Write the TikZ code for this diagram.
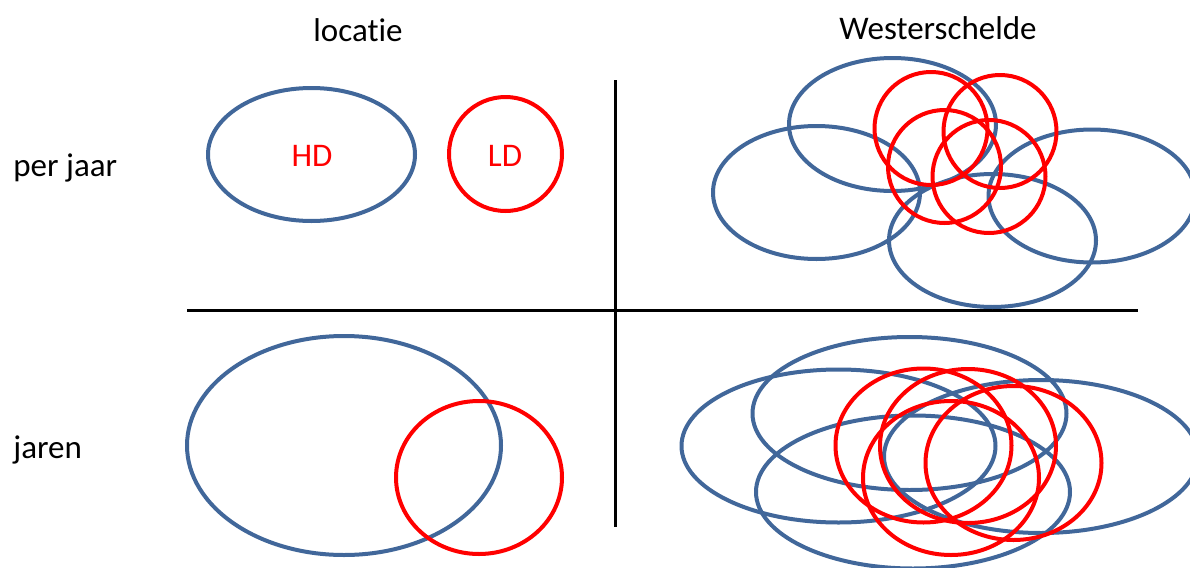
\documentclass[tikz,border=0pt]{standalone}
\usepackage{fontspec}
\setmainfont{Carlito}[Ligatures=NoCommon]
\usetikzlibrary{shapes.geometric}
\definecolor{hdblue}{HTML}{41679A}
\definecolor{ldred}{HTML}{FF0000}

\begin{document}
\begin{tikzpicture}[
  x=0.5pt, y=-0.5pt,
  hd/.style={draw=hdblue, ellipse, line width=2pt, inner sep=0pt},
  ld/.style={draw=ldred, ellipse, line width=2pt, inner sep=0pt},
  lbl/.style={font=\fontsize{16.5}{20}\selectfont, inner sep=0pt},
  axis/.style={line width=1.5pt, black},
]
  \useasboundingbox (0,0) rectangle (1190,568);

  % headers
  \node[lbl, anchor=base] (loc) at (358,41) {locatie};
  \node[lbl, anchor=base] (ws) at (938,39) {Westerschelde};
  \node[lbl, anchor=base west] (jaar) at (13,176) {per jaar};
  \node[lbl, anchor=base west] (jaren) at (13,458) {jaren};

  % cross
  \coordinate (vtop) at (615,80);
  \coordinate (vbot) at (615,527);
  \coordinate (hleft) at (187,310);
  \coordinate (hright) at (1138,310);
  \draw[axis] (vtop) -- (vbot);
  \draw[axis] (hleft) -- (hright);

  % locatie, per jaar
  \node[hd, minimum width=103.5pt, minimum height=66.5pt] (hd) at (311.5,154.5) {};
  \node[ld, minimum width=56.5pt, minimum height=57pt] (ldc) at (505.5,154) {};
  \node[lbl, anchor=base, text=ldred] (hdtxt) at (312,166) {HD};
  \node[lbl, anchor=base, text=ldred] (ldtxt) at (505,166) {LD};

  % locatie, jaren
  \node[hd, minimum width=157pt, minimum height=109.5pt] (hdj) at (344,445.5) {};
  \node[ld, minimum width=83pt, minimum height=76.5pt] (ldj) at (479,477.5) {};

  % Westerschelde, per jaar
  \foreach \cx/\cy/\i in {892.5/124.5/1, 816.5/192.5/2, 992.5/240.5/3, 1092/196/4}
    \node[hd, minimum width=103.5pt, minimum height=66.5pt] (wb\i) at (\cx,\cy) {};
  \foreach \cx/\cy/\i in {931/128.5/1, 1000/131.5/2, 944.5/166.5/3, 989/176.5/4}
    \node[ld, minimum width=56.5pt, minimum height=56.5pt] (wr\i) at (\cx,\cy) {};

  % Westerschelde, jaren
  \foreach \cx/\cy/\i in {909.5/413.5/1, 838.5/446/2, 913/492/3, 1041/456.5/4}
    \node[hd, minimum width=157pt, minimum height=76.5pt] (jb\i) at (\cx,\cy) {};
  \foreach \cx/\cy/\i in {923.5/445.5/1, 968/446/2, 951/478/3, 1013.5/463/4}
    \node[ld, minimum width=88pt, minimum height=77pt] (jr\i) at (\cx,\cy) {};
\end{tikzpicture}
\end{document}
